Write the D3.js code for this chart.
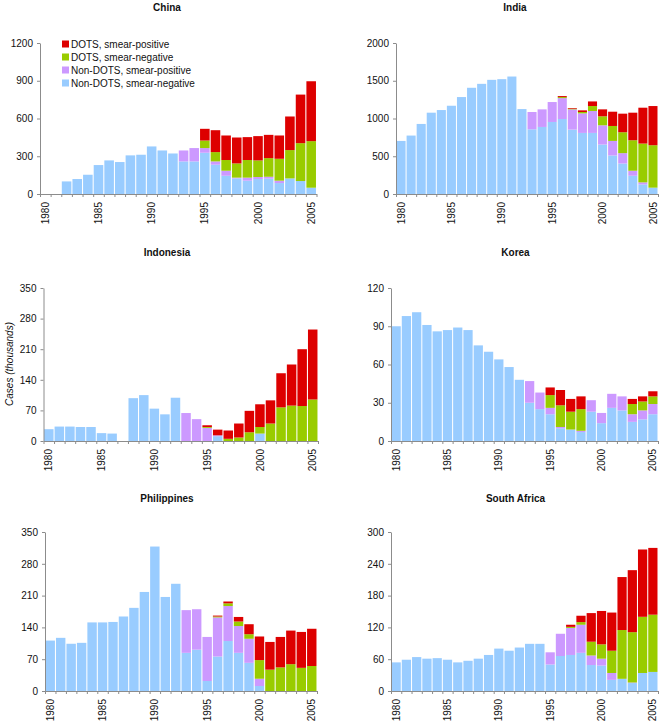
<!DOCTYPE html>
<html>
<head>
<meta charset="utf-8">
<script src="https://cdnjs.cloudflare.com/ajax/libs/d3/7.8.5/d3.min.js"></script>
<style>
  body { margin: 0; background: #fff; }
  text { font-family: Arial, "Liberation Sans", sans-serif; }
</style>
</head>
<body>
<div id="chart-area"></div>
<script>

// DATA (thousands of cases)
var years = [1980, 1981, 1982, 1983, 1984, 1985, 1986, 1987, 1988, 1989, 1990, 1991, 1992,
             1993, 1994, 1995, 1996, 1997, 1998, 1999, 2000, 2001, 2002, 2003, 2004, 2005];
var yearLabels = [1980, 1985, 1990, 1995, 2000, 2005];

var seriesKeys = ["nonNeg", "nonPos", "dotsNeg", "dotsPos"];
var seriesNames = ["Non-DOTS, smear-negative", "Non-DOTS, smear-positive", "DOTS, smear-negative", "DOTS, smear-positive"];

var chinaNonNeg  = [0, 0, 100, 119, 153, 230, 267, 254, 307, 312, 378, 346, 322, 259, 259, 328, 233, 145, 124, 106, 119, 122, 87, 124, 103, 50];
var chinaNonPos  = [0, 0, 0, 0, 0, 0, 0, 0, 0, 0, 0, 0, 0, 87, 106, 37, 26, 40, 6, 24, 16, 15, 19, 0, 0, 0];
var chinaDotsNeg = [0, 0, 0, 0, 0, 0, 0, 0, 0, 0, 0, 0, 0, 0, 0, 60, 74, 85, 113, 140, 132, 148, 174, 225, 301, 370];
var chinaDotsPos = [0, 0, 0, 0, 0, 0, 0, 0, 0, 0, 0, 0, 0, 0, 0, 93, 174, 195, 206, 182, 193, 185, 185, 267, 386, 476];

var indiaNonNeg  = [703, 774, 928, 1077, 1112, 1169, 1284, 1407, 1459, 1512, 1521, 1556, 1125, 857, 888, 954, 993, 853, 809, 809, 655, 510, 404, 242, 127, 84];
var indiaNonPos  = [0, 0, 0, 0, 0, 0, 0, 0, 0, 0, 0, 0, 0, 229, 233, 264, 277, 268, 259, 290, 255, 193, 137, 66, 27, 0];
var indiaDotsNeg = [0, 0, 0, 0, 0, 0, 0, 0, 0, 0, 0, 0, 0, 0, 0, 0, 14, 9, 18, 66, 119, 198, 277, 404, 514, 562];
var indiaDotsPos = [0, 0, 0, 0, 0, 0, 0, 0, 0, 0, 0, 0, 0, 0, 0, 0, 13, 9, 22, 61, 92, 189, 246, 365, 475, 519];

var indonesiaNonNeg  = [27, 33, 33, 32, 32, 18, 17, 0, 98, 105, 74, 61, 99, 0, 0, 0, 11, 0, 0, 0, 17, 0, 0, 0, 0, 0];
var indonesiaNonPos  = [0, 0, 0, 0, 0, 0, 0, 0, 0, 0, 0, 0, 0, 64, 50, 30, 2, 0, 0, 0, 0, 0, 0, 0, 0, 0];
var indonesiaDotsNeg = [0, 0, 0, 0, 0, 0, 0, 0, 0, 0, 0, 0, 0, 0, 0, 2, 0, 5, 8, 20, 15, 40, 77, 81, 80, 95];
var indonesiaDotsPos = [0, 0, 0, 0, 0, 0, 0, 0, 0, 0, 0, 0, 0, 0, 0, 4, 13, 19, 32, 49, 52, 53, 78, 94, 130, 160];

var koreaNonNeg  = [90, 98, 101, 91, 86, 87, 89, 87, 75, 70, 64, 58, 48, 30, 25, 21, 10, 9, 7, 23, 14, 26, 24, 15, 17, 21];
var koreaNonPos  = [0, 0, 0, 0, 0, 0, 0, 0, 0, 0, 0, 0, 0, 17, 13, 5, 1, 0, 1, 9, 8, 11, 11, 6, 7, 8];
var koreaDotsNeg = [0, 0, 0, 0, 0, 0, 0, 0, 0, 0, 0, 0, 0, 0, 0, 10, 17, 14, 17, 0, 0, 0, 0, 8, 7, 6];
var koreaDotsPos = [0, 0, 0, 0, 0, 0, 0, 0, 0, 0, 0, 0, 0, 0, 0, 6, 12, 10, 10, 0, 0, 0, 0, 4, 4, 4];

var philippinesNonNeg  = [111, 117, 104, 106, 151, 151, 152, 164, 183, 218, 318, 207, 236, 84, 91, 22, 76, 110, 84, 62, 11, 0, 0, 0, 0, 0];
var philippinesNonPos  = [0, 0, 0, 0, 0, 0, 0, 0, 0, 0, 0, 0, 0, 94, 89, 97, 86, 77, 59, 53, 16, 0, 0, 0, 0, 0];
var philippinesDotsNeg = [0, 0, 0, 0, 0, 0, 0, 0, 0, 0, 0, 0, 0, 0, 0, 0, 2, 6, 10, 10, 41, 47, 52, 59, 51, 55];
var philippinesDotsPos = [0, 0, 0, 0, 0, 0, 0, 0, 0, 0, 0, 0, 0, 0, 0, 0, 2, 4, 10, 22, 52, 61, 67, 74, 79, 82];

var safricaNonNeg  = [54, 59, 64, 61, 62, 59, 54, 57, 61, 68, 80, 76, 82, 89, 89, 50, 66, 68, 72, 49, 48, 21, 23, 15, 34, 36];
var safricaNonPos  = [0, 0, 0, 0, 0, 0, 0, 0, 0, 0, 0, 0, 0, 0, 0, 23, 42, 51, 53, 18, 13, 13, 0, 1, 0, 0];
var safricaDotsNeg = [0, 0, 0, 0, 0, 0, 0, 0, 0, 0, 0, 0, 0, 0, 0, 0, 0, 2, 5, 26, 27, 42, 92, 95, 106, 108];
var safricaDotsPos = [0, 0, 0, 0, 0, 0, 0, 0, 0, 0, 0, 0, 0, 0, 0, 0, 0, 4, 12, 54, 63, 72, 100, 117, 127, 126];

var chinaTicks = [0, 300, 600, 900, 1200];
var indiaTicks = [0, 500, 1000, 1500, 2000];
var indonesiaTicks = [0, 70, 140, 210, 280, 350];
var koreaTicks = [0, 30, 60, 90, 120];
var philippinesTicks = [0, 70, 140, 210, 280, 350];
var safricaTicks = [0, 60, 120, 180, 240, 300];

var countries = [
    {name: "China", series: [chinaNonNeg, chinaNonPos, chinaDotsNeg, chinaDotsPos], ticks: chinaTicks},
    {name: "India", series: [indiaNonNeg, indiaNonPos, indiaDotsNeg, indiaDotsPos], ticks: indiaTicks},
    {name: "Indonesia", series: [indonesiaNonNeg, indonesiaNonPos, indonesiaDotsNeg, indonesiaDotsPos], ticks: indonesiaTicks},
    {name: "Korea", series: [koreaNonNeg, koreaNonPos, koreaDotsNeg, koreaDotsPos], ticks: koreaTicks},
    {name: "Philippines", series: [philippinesNonNeg, philippinesNonPos, philippinesDotsNeg, philippinesDotsPos], ticks: philippinesTicks},
    {name: "South Africa", series: [safricaNonNeg, safricaNonPos, safricaDotsNeg, safricaDotsPos], ticks: safricaTicks}
];

// LAYOUT (plot box of each panel, in page pixels)
var layout = [
    {left: 40,   right: 316.5, top: 43,  bottom: 194, tx: 167,   ty: 11},
    {left: 396,  right: 658,   top: 43,  bottom: 194, tx: 515,   ty: 11},
    {left: 43.5, right: 318,   top: 288, bottom: 441, tx: 167,   ty: 256},
    {left: 391,  right: 658,   top: 288, bottom: 441, tx: 515.5, ty: 256},
    {left: 45,   right: 317,   top: 532, bottom: 691, tx: 167,   ty: 502},
    {left: 391,  right: 658,   top: 532, bottom: 691, tx: 515.5, ty: 502}
];

var color = d3.scaleOrdinal()
    .domain(seriesKeys)
    .range(["#99CCFF", "#CC99FF", "#99CC00", "#DD0000"]);

var axisColor = "#8c8c8c";

var svg = d3.select("#chart-area").append("svg")
    .attr("width", 661)
    .attr("height", 723);

var stack = d3.stack().keys(seriesKeys);

countries.forEach(function(c, ci) {
    var L = layout[ci];
    var width = L.right - L.left;
    var height = L.bottom - L.top;

    var rows = years.map(function(yr, i) {
        var row = {year: yr};
        seriesKeys.forEach(function(k, si) { row[k] = c.series[si][i]; });
        return row;
    });

    var g = svg.append("g")
        .attr("transform", "translate(" + L.left + ", " + L.top + ")");

    var x = d3.scaleBand()
        .domain(years)
        .range([0, width])
        .paddingInner(0.1)
        .paddingOuter(0.05);

    // category edges, for the tick marks between bars
    var xEdge = d3.scaleLinear()
        .domain([1980, 2006])
        .range([0, width]);

    var y = d3.scaleLinear()
        .domain([0, c.ticks[c.ticks.length - 1]])
        .range([height, 0]);

    // BARS
    var layers = g.selectAll(".layer")
        .data(stack(rows))
        .enter().append("g")
            .attr("class", "layer")
            .attr("fill", function(d) { return color(d.key); });

    layers.selectAll("rect")
        .data(function(d) { return d; })
        .enter().append("rect")
            .attr("x", function(d) { return x(d.data.year); })
            .attr("width", x.bandwidth())
            .attr("y", function(d) { return y(d[1]); })
            .attr("height", function(d) { return Math.max(0, y(d[0]) - y(d[1])); });

    // Y AXIS
    var yAxis = g.append("g")
        .attr("class", "y-axis")
        .call(d3.axisLeft(y).tickValues(c.ticks).tickFormat(d3.format("d"))
            .tickSize(3).tickSizeOuter(0).tickPadding(4));
    yAxis.select(".domain").attr("stroke", axisColor);
    yAxis.selectAll(".tick line").attr("stroke", axisColor);
    yAxis.selectAll("text").attr("font-size", 10).attr("font-family", "Arial, Liberation Sans, sans-serif").attr("fill", "#111");

    // X AXIS: tick marks between categories
    var xTicks = g.append("g")
        .attr("transform", "translate(0, " + height + ")")
        .call(d3.axisBottom(xEdge).tickValues(d3.range(1980, 2007)).tickSize(3).tickSizeOuter(0).tickFormat(""));
    xTicks.select(".domain").attr("stroke", axisColor);
    xTicks.selectAll(".tick line").attr("stroke", axisColor);

    // X AXIS labels
    var xLabels = g.append("g")
        .attr("transform", "translate(0, " + height + ")")
        .call(d3.axisBottom(x).tickValues(yearLabels).tickSize(0));
    xLabels.select(".domain").remove();
    xLabels.selectAll("text")
        .attr("font-size", 10)
        .attr("font-family", "Arial, Liberation Sans, sans-serif")
        .attr("fill", "#111")
        .attr("transform", "rotate(-90)")
        .attr("x", -8)
        .attr("y", 0)
        .attr("dy", "0.36em")
        .style("text-anchor", "end");

    // TITLE
    svg.append("text")
        .attr("x", L.tx)
        .attr("y", L.ty)
        .attr("text-anchor", "middle")
        .attr("font-size", 10)
        .attr("font-weight", "bold")
        .attr("fill", "#111")
        .text(c.name);
});

// Y label
svg.append("text")
    .attr("transform", "translate(12.5, 364) rotate(-90)")
    .attr("text-anchor", "middle")
    .attr("font-size", 10)
    .attr("font-style", "italic")
    .attr("fill", "#111")
    .text("Cases (thousands)");

// LEGEND
var legend = svg.append("g")
    .attr("transform", "translate(62, 44)");

seriesKeys.slice().reverse().forEach(function(k, i) {
    var legendRow = legend.append("g")
        .attr("transform", "translate(0, " + (i * 13) + ")");
    legendRow.append("rect")
        .attr("y", -3.5)
        .attr("width", 7)
        .attr("height", 7)
        .attr("fill", color(k));
    legendRow.append("text")
        .attr("x", 9)
        .attr("y", 3.6)
        .attr("font-size", 10)
        .attr("fill", "#111")
        .text(seriesNames[seriesKeys.indexOf(k)]);
});

</script>
</body>
</html>
